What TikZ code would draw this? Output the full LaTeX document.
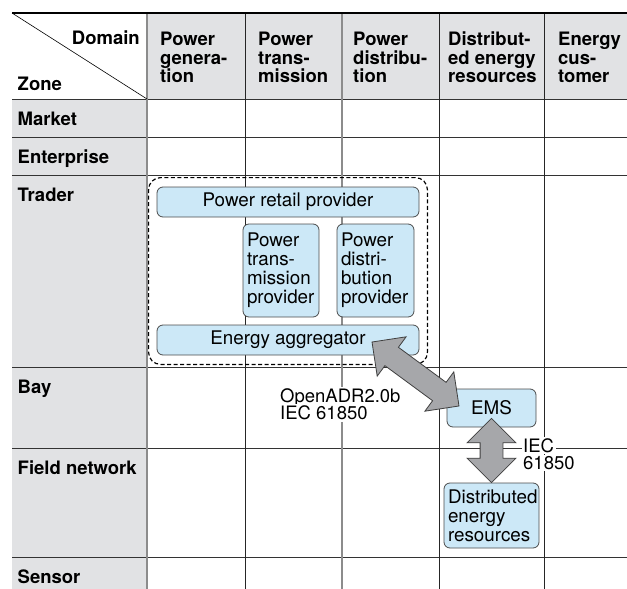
\documentclass[tikz,border=0pt]{standalone}
\usepackage{fontspec}
\setmainfont{TeX Gyre Heros}
\usetikzlibrary{shapes.arrows,fit,calc}
\definecolor{cellgray}{RGB}{225,226,228}
\definecolor{rolefill}{RGB}{204,232,247}
\definecolor{arrowfill}{RGB}{166,167,170}
\newcommand\onwhite[1]{{\fboxsep=1.5pt\smash{\colorbox{white}{#1}}}}

\begin{document}
\begin{tikzpicture}[x=1pt,y=-1pt]
\tikzstyle{rowname}=[anchor=north west,inner sep=0pt,font=\fontsize{18.5}{18.5}\selectfont\bfseries]%
\tikzstyle{colname}=[rowname,align=left]%
\tikzstyle{role}=[draw=black!70,fill=rolefill,line width=0.8pt,rounded corners=6pt,inner sep=4pt,font=\fontsize{18.8}{19}\selectfont]%
\tikzstyle{fatarrow}=[double arrow,draw=black!75,fill=arrowfill,line width=0.8pt,inner xsep=0pt,inner ysep=11pt,double arrow head extend=13pt,minimum width=0pt]%
\tikzstyle{proto}=[anchor=north west,inner sep=0pt,align=left,font=\fontsize{18.5}{17.5}\selectfont]%
\useasboundingbox (0,0) rectangle (627,589);
% shaded header row and zone column
\fill[cellgray] (147,13) rectangle (627,99);
\fill[cellgray] (12,99) rectangle (147,589);
% grid
\foreach \y in {99,137,175,367,448,557} {
\draw[black!80,line width=0.9pt] (12,\y)--(627,\y);}
\foreach \x/\c/\w in {147/black!45/1.6pt,245/black!85/0.8pt,342/black!45/1.3pt,439/black!85/0.8pt,544/black!85/0.8pt} {
\draw[\c,line width=\w] (\x,13)--(\x,589);}
\draw[line width=2pt] (12,13)--(627,13);
\draw[line width=0.6pt] (12,13)--(147,99);
\node[rowname,anchor=base east] (domainlbl) at (140,45) {Domain};
\node[rowname,anchor=base west] (zonelbl) at (17.5,90) {Zone};
% domains
\foreach \x/\t [count=\i] in {160/{Power\\genera-\\tion},258/{Power\\trans-\\mission},353/{Power\\distribu-\\tion},448/{Distribut-\\ed energy\\resources},558/{Energy\\cus-\\tomer}}
\node[colname] (dom\i) at (\x,32) {\t};
% zones
\foreach \y/\t [count=\i] in {112/Market,150/Enterprise,188/Trader,380/Bay,461/Field network,570/Sensor}
\node[rowname] (zone\i) at (17.5,\y) {\t};
% trader roles
\node[role,minimum width=262pt,minimum height=30pt] (retail) at (288,202) {Power retail provider};
\node[role,text width=68pt,minimum height=93pt,align=left] (transprov) at (281,270.5) {Power\\trans-\\mission\\provider};
\node[role,text width=69pt,minimum height=93pt,align=left] (distprov) at (375.5,270.5) {Power\\distri-\\bution\\provider};
\node[role,minimum width=262pt,minimum height=30pt] (agg) at (288,340) {Energy aggregator};
\node[draw,dashed,dash pattern=on 4pt off 2.5pt,line width=1.2pt,rounded corners=12pt,inner xsep=8pt,inner ysep=9pt,fit=(retail)(agg)] (trader) {};
% customer side
\node[role,minimum width=89pt,minimum height=38pt] (ems) at (491.5,408) {EMS};
\node[role,text width=87pt,minimum height=65pt,align=left] (der) at (491.5,515.5) {Distributed\\energy\\resources};
% protocols (baseline of the first line)
\node[proto] (adr) at (278.5,402) {\onwhite{OpenADR2.0b}\\\onwhite{IEC 61850}};
\node[proto] (iec) at (521.5,452) {\onwhite{IEC}\\\onwhite{61850}};
% links
\coordinate (aggtip) at (372,342);
\coordinate (emstip) at (459,406);
\path let \p1=($(emstip)-(aggtip)$) in node[fatarrow,minimum height={veclen(\x1,\y1)},rotate={atan2(\y1,\x1)}] (adrlink) at ($(aggtip)!0.5!(emstip)$) {};
\coordinate (emsbase) at ($(ems.south)+(0,-9)$);
\path let \p1=($(der.north)-(emsbase)$) in node[fatarrow,minimum height={veclen(\x1,\y1)},rotate={atan2(\y1,\x1)}] (ieclink) at ($(emsbase)!0.5!(der.north)$) {};
\end{tikzpicture}
\end{document}
